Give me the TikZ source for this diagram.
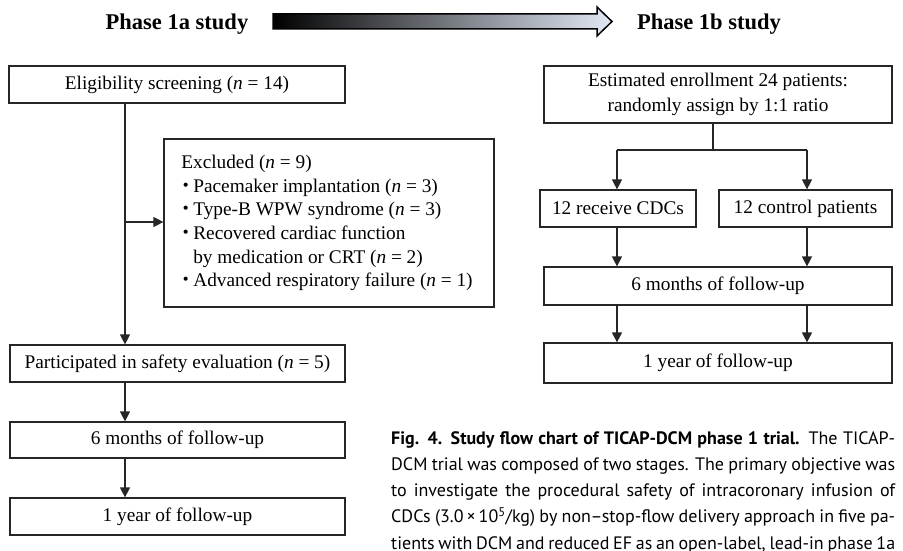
\documentclass[tikz,border=0pt]{standalone}
\usepackage{fontspec}
\setmainfont{Liberation Serif}
\newfontfamily\capfont{PT Sans}
\newfontfamily\jpfont{Noto Sans CJK JP}
\usetikzlibrary{arrows.meta}
\newcommand\bul{\makebox[12pt][l]{\hspace*{-5pt}{\jpfont ・}}}
\newcommand\capline[1]{\makebox[504pt][s]{#1}}
\begin{document}
\begin{tikzpicture}[x=1pt,y=-1pt,
  box/.style={draw=black!85, line width=1.2pt, inner sep=0pt, text=black,
    font=\fontsize{19.3}{23.6}\selectfont},
  arr/.style={-{Triangle[width=10pt,length=10pt]}, line width=1.2pt, draw=black!85},
  ln/.style={line width=1.2pt, draw=black!85},
  head/.style={anchor=base, font=\bfseries\fontsize{22.5}{26}\selectfont}]
\useasboundingbox (0,0) rectangle (903,551);

% header
\node[head] (pa) at (177,30) {Phase 1a study};
\node[head] (pb) at (709,30) {Phase 1b study};
\draw[line width=1.5pt, draw=black, left color=black, middle color={rgb,255:red,130;green,144;blue,168}, right color={rgb,255:red,226;green,233;blue,246}, shading angle=90]
  (273,14) -- (597,14) -- (597,7) -- (612,21.5) -- (597,36) -- (597,29) -- (273,29) -- cycle;

% phase 1a
\node[box, minimum width=336pt, minimum height=37pt] (elig) at (177,84.5) {Eligibility screening (\textit{n} = 14)};
\node[box, minimum width=330pt, minimum height=168pt, align=left] (excl) at (329,223)
  {\hspace*{-4pt}Excluded (\textit{n} = 9)\\
   \hspace*{-4pt}\bul Pacemaker implantation (\textit{n} = 3)\\
   \hspace*{-4pt}\bul Type-B WPW syndrome (\textit{n} = 3)\\
   \hspace*{-4pt}\bul Recovered cardiac function\\
   \hspace*{8pt}by medication or CRT (\textit{n} = 2)\\
   \hspace*{-4pt}\bul Advanced respiratory failure (\textit{n} = 1)};
\node[box, minimum width=335pt, minimum height=37pt] (part) at (177.5,363.5) {Participated in safety evaluation (\textit{n} = 5)};
\node[box, minimum width=335pt, minimum height=36pt] (six) at (177.5,440) {6 months of follow-up};
\node[box, minimum width=335pt, minimum height=37pt] (year) at (177.5,516.5) {1 year of follow-up};

\coordinate (trunk) at (125,222);
\draw[arr] (elig.south -| trunk) -- (part.north -| trunk);
\draw[arr] (trunk) -- (excl.west |- trunk);
\draw[arr] (part.south -| trunk) -- (six.north -| trunk);
\draw[arr] (six.south -| trunk) -- (year.north -| trunk);

% phase 1b
\node[box, minimum width=348pt, minimum height=57pt, align=center, font=\fontsize{19.3}{25}\selectfont] (est) at (718,94.5)
  {Estimated enrollment 24 patients:\\ randomly assign by 1:1 ratio};
\node[box, minimum width=156pt, minimum height=37pt] (rec) at (618,208.5) {12 receive CDCs};
\node[box, minimum width=173pt, minimum height=37pt] (ctl) at (805.5,208.5) {12 control patients};
\node[box, minimum width=348pt, minimum height=38pt] (six2) at (718,286) {6 months of follow-up};
\node[box, minimum width=348pt, minimum height=40pt] (year2) at (718,363) {1 year of follow-up};

\coordinate (sp) at (713,150);
\coordinate (spl) at (617,150);
\coordinate (spr) at (807,150);
\draw[ln] (est.south -| sp) -- (sp);
\draw[ln] (spl) -- (spr);
\draw[arr] (spl) -- (rec.north -| spl);
\draw[arr] (spr) -- (ctl.north -| spr);
\draw[arr] (rec.south -| spl) -- (six2.north -| spl);
\draw[arr] (ctl.south -| spr) -- (six2.north -| spr);
\draw[arr] (six2.south -| spl) -- (year2.north -| spl);
\draw[arr] (six2.south -| spr) -- (year2.north -| spr);

% caption
\node[anchor=north west, inner sep=0pt, align=left, text=black,
      font=\capfont\fontsize{18}{26.3}\selectfont] (cap) at (391,431)
  {\capline{\textbf{Fig. 4. Study flow chart of TICAP-DCM phase 1 trial.} The TICAP-}\\
   \capline{DCM trial was composed of two stages. The primary objective was}\\
   \capline{to investigate the procedural safety of intracoronary infusion of}\\
   \capline{CDCs (3.0\,×\,10\textsuperscript{5}/kg) by non\kern-0.5pt–\kern-0.5pt stop-flow delivery approach in five pa-}\\
   \capline{tients with DCM and reduced EF as an open-label, lead-in phase 1a}};
\end{tikzpicture}
\end{document}
